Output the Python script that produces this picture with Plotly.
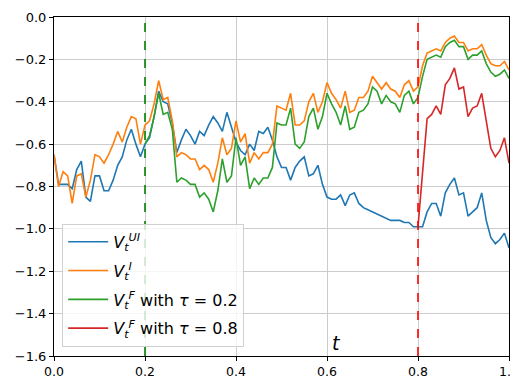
import plotly.graph_objects as go

t = [i / 100 for i in range(101)]

v_ui = [-0.65, -0.79, -0.79, -0.79, -0.81, -0.72, -0.68, -0.85, -0.87, -0.75,
        -0.75, -0.82, -0.82, -0.77, -0.70, -0.66, -0.58, -0.53, -0.60, -0.66,
        -0.60, -0.57, -0.47, -0.35, -0.40, -0.41, -0.50, -0.64, -0.58, -0.53,
        -0.56, -0.60, -0.54, -0.56, -0.51, -0.47, -0.50, -0.54, -0.45, -0.52,
        -0.59, -0.63, -0.65, -0.60, -0.63, -0.54, -0.55, -0.52, -0.58, -0.66,
        -0.71, -0.71, -0.77, -0.71, -0.68, -0.66, -0.75, -0.74, -0.70, -0.79,
        -0.85, -0.86, -0.86, -0.84, -0.89, -0.84, -0.83, -0.88, -0.90, -0.91,
        -0.92, -0.93, -0.94, -0.95, -0.96, -0.96, -0.96, -0.97, -0.97, -0.99,
        -0.99, -0.99, -0.92, -0.88, -0.88, -0.94, -0.83, -0.79, -0.76, -0.84,
        -0.83, -0.94, -0.92, -0.90, -0.83, -0.96, -1.04, -1.07, -1.05, -1.02,
        -1.09]

v_i = [-0.65, -0.80, -0.73, -0.75, -0.88, -0.75, -0.74, -0.85, -0.77, -0.65,
       -0.66, -0.69, -0.65, -0.60, -0.54, -0.59, -0.52, -0.47, -0.48, -0.60,
       -0.51, -0.49, -0.41, -0.30, -0.39, -0.38, -0.49, -0.66, -0.64, -0.65,
       -0.67, -0.67, -0.72, -0.70, -0.72, -0.78, -0.69, -0.57, -0.65, -0.62,
       -0.49, -0.59, -0.55, -0.69, -0.64, -0.67, -0.64, -0.64, -0.60, -0.42,
       -0.43, -0.44, -0.36, -0.51, -0.51, -0.49, -0.40, -0.36, -0.45, -0.40,
       -0.31, -0.36, -0.39, -0.43, -0.35, -0.45, -0.44, -0.38, -0.38, -0.35,
       -0.28, -0.31, -0.34, -0.31, -0.34, -0.35, -0.38, -0.32, -0.30, -0.35,
       -0.33, -0.23, -0.17, -0.16, -0.15, -0.16, -0.12, -0.10, -0.09, -0.12,
       -0.12, -0.16, -0.15, -0.15, -0.13, -0.18, -0.22, -0.23, -0.23, -0.21,
       -0.25]

# V^F with tau = 0.2 (defined from t = 0.2)
t_f02 = t[20:]
v_f02 = [-0.60, -0.56, -0.47, -0.36, -0.46, -0.45, -0.53, -0.78, -0.76, -0.77,
         -0.79, -0.79, -0.85, -0.83, -0.86, -0.92, -0.82, -0.67, -0.78, -0.75,
         -0.57, -0.70, -0.66, -0.81, -0.76, -0.79, -0.76, -0.76, -0.71, -0.50,
         -0.51, -0.51, -0.43, -0.60, -0.62, -0.59, -0.47, -0.43, -0.53, -0.47,
         -0.36, -0.41, -0.45, -0.51, -0.42, -0.53, -0.52, -0.45, -0.44, -0.41,
         -0.33, -0.35, -0.41, -0.37, -0.40, -0.41, -0.45, -0.37, -0.35, -0.41,
         -0.38, -0.28, -0.20, -0.19, -0.18, -0.19, -0.14, -0.12, -0.11, -0.14,
         -0.14, -0.20, -0.18, -0.18, -0.16, -0.22, -0.26, -0.28, -0.27, -0.25,
         -0.29]

# V^F with tau = 0.8 (defined from t = 0.8)
t_f08 = t[80:]
v_f08 = [-0.99, -0.74, -0.48, -0.46, -0.42, -0.46, -0.32, -0.29, -0.24, -0.34,
         -0.33, -0.47, -0.43, -0.42, -0.36, -0.49, -0.62, -0.66, -0.63, -0.57,
         -0.69]

tau_lines = [0.2, 0.8]
tau_colors = ["green", "red"]

x_ticks = [0.0, 0.2, 0.4, 0.6, 0.8, 1.0]
y_ticks = [0.0, -0.2, -0.4, -0.6, -0.8, -1.0, -1.2, -1.4, -1.6]

names = ["<i>V</i><sub><i>t</i></sub><sup><i>UI</i></sup>",
         "<i>V</i><sub><i>t</i></sub><sup><i>I</i></sup>",
         "<i>V</i><sub><i>t</i></sub><sup><i>F</i></sup> with <i>τ</i> = 0.2",
         "<i>V</i><sub><i>t</i></sub><sup><i>F</i></sup> with <i>τ</i> = 0.8"]
colors = ["#1f77b4", "#ff7f0e", "#2ca02c", "#d62728"]

fig = go.Figure()
series = [(t, v_ui), (t, v_i), (t_f02, v_f02), (t_f08, v_f08)]
for k, ((xs, ys), nm, c) in enumerate(zip(series, names, colors)):
    fig.add_trace(go.Scatter(x=xs, y=ys, mode="lines", name=nm,
                             legendgroup=f"g{k}",
                             line=dict(color=c, width=1.6)))

for xv, c in zip(tau_lines, tau_colors):
    fig.add_shape(type="line", xref="x", yref="paper", x0=xv, x1=xv, y0=0, y1=1,
                  line=dict(color=c, width=1.6, dash="dash"), layer="above")

fig.add_annotation(x=0.62, y=-1.6, xref="x", yref="y", text="<i>t</i>",
                   showarrow=False, yanchor="bottom", yshift=0,
                   font=dict(size=19, family="DejaVu Sans", color="black"))

axis_common = dict(showgrid=True, gridcolor="#cccccc", gridwidth=1,
                   showline=True, linecolor="black", linewidth=1, mirror=True,
                   ticks="outside", ticklen=4, tickcolor="black",
                   zeroline=False, tickformat=".1f", automargin=False,
                   ticklabeloverflow="allow")

fig.update_xaxes(range=[0, 1], tickvals=x_ticks,
                 tickfont=dict(family="DejaVu Sans", size=12.5, color="black"),
                 **axis_common)
fig.update_yaxes(range=[-1.6, 0], tickvals=y_ticks,
                 tickfont=dict(family="DejaVu Sans", size=13, color="black"),
                 **axis_common)

# the page body adds an 8 px offset, so the figure is sized to fit the window
fig.update_layout(
    width=511, height=373,
    margin=dict(l=46, r=10, t=9, b=25),
    plot_bgcolor="white", paper_bgcolor="white",
    font=dict(family="DejaVu Sans", color="black"),
    showlegend=True,
    legend=dict(x=0.018, y=0.027, xanchor="left", yanchor="bottom",
                bgcolor="rgba(255,255,255,0.8)", bordercolor="#d0d0d0",
                borderwidth=1, font=dict(size=16, family="DejaVu Sans"),
                tracegroupgap=5, itemwidth=40),
)

fig.write_html("out.html")
